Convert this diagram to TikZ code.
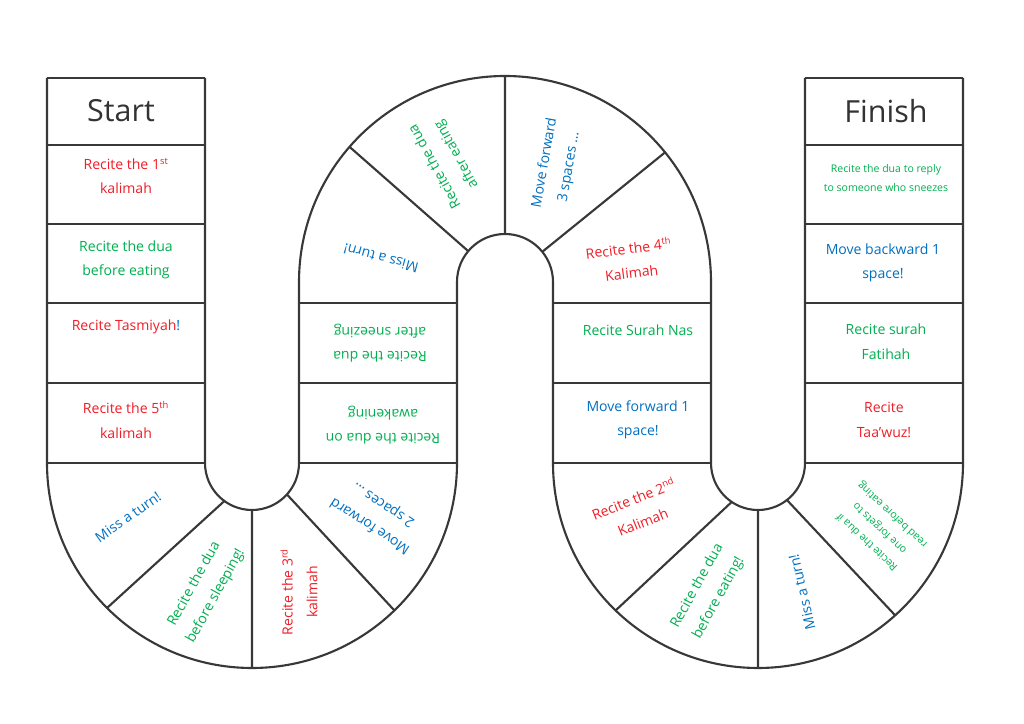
\documentclass[tikz,border=0pt]{standalone}
\usepackage{fontspec}
\setmainfont{Open Sans}
\usetikzlibrary{calc}
\definecolor{trackline}{HTML}{383838}
\definecolor{titlegray}{HTML}{333333}
\definecolor{cardred}{HTML}{F01E28}
\definecolor{cardgreen}{HTML}{00B050}
\definecolor{cardblue}{HTML}{0070C0}
\tikzset{track/.style={draw=trackline,line width=1.8pt,line join=round}}
\tikzset{card/.style={align=center,inner sep=0pt,font=\fontsize{12}{21}\selectfont}}
\tikzset{tinycard/.style={card,font=\fontsize{9}{16}\selectfont}}
\tikzset{title/.style={text=titlegray,font=\fontsize{26}{30}\selectfont}}

\begin{document}
\begin{tikzpicture}[x=0.03cm,y=0.03cm]
        \useasboundingbox[fill=white] (0,0) rectangle (1024,724);
        \coordinate(bl) at (252,261);
        \coordinate(tp) at (505,442);
        \coordinate(br) at (758,261);
        \draw[track] (47,646) -- (47,261) arc[start angle=180,end angle=360,radius=205]
          -- (457,442) arc[start angle=180,end angle=0,radius=48]
          -- (553,261) arc[start angle=180,end angle=360,radius=205] -- (963,646);
        \draw[track] (205,646) -- (205,261) arc[start angle=180,end angle=360,radius=47]
          -- (299,442) arc[start angle=180,end angle=0,radius=206]
          -- (711,261) arc[start angle=180,end angle=360,radius=47] -- (805,646);
        \draw[track] (47,646) -- (205,646) (805,646) -- (963,646);
        \foreach \y in {579,500,421,341,261}
          \draw[track] (47,\y) -- (205,\y) (805,\y) -- (963,\y);
        \foreach \y in {421,341,261}
          \draw[track] (299,\y) -- (457,\y) (553,\y) -- (711,\y);
        \draw[track]
          ($(bl)+(234:47)$) -- ($(bl)+(225:205)$)
          ($(bl)+(270:47)$) -- ($(bl)+(270:205)$)
          ($(bl)+(318:47)$) -- ($(bl)+(314:205)$)
          ($(tp)+(140:48)$) -- ($(tp)+(139:206)$)
          ($(tp)+(90:48)$) -- ($(tp)+(90:206)$)
          ($(tp)+(39:48)$) -- ($(tp)+(39:206)$)
          ($(br)+(236:47)$) -- ($(br)+(226:205)$)
          ($(br)+(270:47)$) -- ($(br)+(270:205)$)
          ($(br)+(308:47)$) -- ($(br)+(312:205)$);
        \node(start)[title] at (121,613) {Start};
        \node(finish)[title] at (886,613) {Finish};
        \node(first)[card,text=cardred] at (126,548) {Recite the 1\textsuperscript{st}\\kalimah};
        \node(eatdua)[card,text=cardgreen] at (126,464) {Recite the dua\\before eating};
        \node(tasmiyah)[card,text=cardred] at (126,397) {Recite Tasmiyah\textcolor{cardblue}{!}};
        \node(fifth)[card,text=cardred] at (126,304) {Recite the 5\textsuperscript{th}\\kalimah};
        \node(missA)[card,text=cardblue,rotate=35] at (128,207) {Miss a turn!};
        \node(sleep)[card,text=cardgreen,rotate=61] at (205,134) {Recite the dua\\before sleeping!};
        \node(third)[card,text=cardred,rotate=90] at (299,132) {Recite the 3\textsuperscript{rd}\\kalimah};
        \node(fwdtwo)[card,text=cardblue,rotate=147] at (377,209) {Move forward\\2 spaces \dots};
        \node(awake)[card,text=cardgreen,rotate=180] at (383,299) {Recite the dua on\\awakening};
        \node(sneeze)[card,text=cardgreen,rotate=180] at (380,381) {Recite the dua\\after sneezing};
        \node(missB)[card,text=cardblue,rotate=165] at (381,466) {Miss a turn!};
        \node(aftereat)[card,text=cardgreen,rotate=119] at (446,564) {Recite the dua\\after eating};
        \node(fwdthree)[card,text=cardblue,rotate=80] at (557,559) {Move forward\\3 spaces \dots};
        \node(fourth)[card,text=cardred,rotate=7] at (630,464) {Recite the 4\textsuperscript{th}\\Kalimah};
        \node(nas)[card,text=cardgreen] at (638,394) {Recite Surah Nas};
        \node(fwdone)[card,text=cardblue] at (638,304) {Move forward 1\\space!};
        \node(second)[card,text=cardred,rotate=22] at (638,214) {Recite the 2\textsuperscript{nd}\\Kalimah};
        \node(beforeeat)[card,text=cardgreen,rotate=61] at (708,132) {Recite the dua\\before eating!};
        \node(missC)[card,text=cardblue,rotate=103] at (802,132) {Miss a turn!};
        \node(forgets)[tinycard,text=cardgreen,rotate=137] at (880,196) {Recite the dua if\\one forgets to\\read before eating};
        \node(taawuz)[card,text=cardred] at (884,304) {Recite\\Taa’wuz!};
        \node(fatihah)[card,text=cardgreen] at (886,382) {Recite surah\\Fatihah};
        \node(backone)[card,text=cardblue] at (883,461) {Move backward 1\\space!};
        \node(reply)[tinycard,text=cardgreen] at (886,546) {Recite the dua to reply\\to someone who sneezes};
      \end{tikzpicture}
\end{document}
